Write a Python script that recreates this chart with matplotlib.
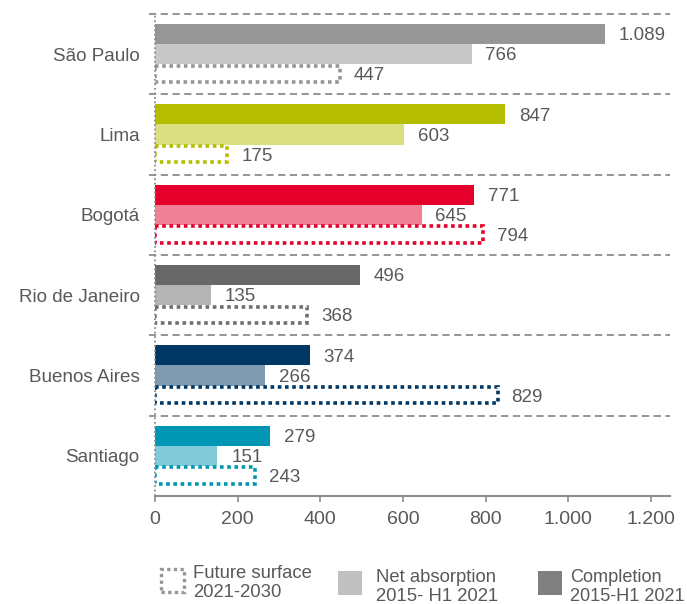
import matplotlib.pyplot as plt
from matplotlib.patches import Rectangle

plt.rcParams['font.family'] = ['Liberation Sans', 'DejaVu Sans']

citta = ["São Paulo", "Lima", "Bogotá", "Rio de Janeiro", "Buenos Aires", "Santiago"]
completamento = [1089, 847, 771, 496, 374, 279]
assorbimento = [766, 603, 645, 135, 266, 151]
futuro = [447, 175, 794, 368, 829, 243]

# colori per citta: barra piena, barra chiara, bordo tratteggiato
col_scuro = ["#969696", "#b5bd00", "#e4002b", "#686868", "#003763", "#0096b4"]
col_chiaro = ["#c8c8c8", "#dbdf82", "#f08095", "#b4b4b4", "#7f9bb1", "#80cad9"]
col_bordo = ["#969696", "#b5bd00", "#e4002b", "#6e6e6e", "#003763", "#0096b4"]

tick_x = [0, 200, 400, 600, 800, 1000, 1200]
tick_lab = ["0", "200", "400", "600", "800", "1.000", "1.200"]

testo = "#595959"
griglia = "#8c8c8c"


def fmt(v):
    return f"{v:,}".replace(",", ".")


fig = plt.figure(figsize=(6.87, 6.04), dpi=100)
ax = fig.add_axes([155 / 687, 1 - 496 / 604, 515 / 687, 482 / 604])

h = 0.25
for i in range(len(citta)):
    ax.barh(i - h, completamento[i], height=h, color=col_scuro[i])
    ax.barh(i, assorbimento[i], height=h, color=col_chiaro[i])
    ax.add_patch(Rectangle((0, i + h / 2 + 0.02), futuro[i], h - 0.05, facecolor="none",
                           edgecolor=col_bordo[i], linestyle=(0, (1, 1)), linewidth=2.6))
    for off, v in [(-h, completamento[i]), (0, assorbimento[i]), (h, futuro[i])]:
        ax.annotate(fmt(v), (v, i + off + 0.02), xytext=(10, 0), textcoords="offset points",
                    va="center", ha="left", fontsize=13.5, color=testo)

ax.set_xlim(0, 1246)
ax.set_ylim(len(citta) - 0.5, -0.5)

# separatori tra i gruppi
for y in [k - 0.5 for k in range(len(citta))]:
    ax.axhline(y, xmin=-0.012, xmax=1, color=griglia, linestyle=(0, (4, 2.5)),
               linewidth=1.3, clip_on=False)
ax.axvline(0, color=griglia, linestyle=(0, (1, 1.5)), linewidth=1.3, clip_on=False)

for s in ["top", "right", "left"]:
    ax.spines[s].set_visible(False)
ax.spines["bottom"].set_color(griglia)
ax.spines["bottom"].set_linewidth(1.5)

ax.set_yticks(range(len(citta)))
ax.set_yticklabels(citta, fontsize=13.6, color=testo)
ax.tick_params(axis="y", length=0, pad=11)
ax.set_xticks(tick_x)
ax.set_xticklabels(tick_lab, fontsize=14, color=testo)
ax.tick_params(axis="x", length=4, width=1.2, color=griglia, pad=7)

# legenda
def fx(px):
    return px / 687


def fy(py):
    return 1 - py / 604


fig.patches.append(Rectangle((fx(161), fy(592)), fx(23), 23 / 604, transform=fig.transFigure,
                             facecolor="none", edgecolor="#969696", linestyle=(0, (1, 1)),
                             linewidth=2.4))
fig.patches.append(Rectangle((fx(338), fy(595)), fx(24), 24 / 604, transform=fig.transFigure,
                             facecolor="#c0c0c0", edgecolor="none"))
fig.patches.append(Rectangle((fx(538), fy(595)), fx(24), 24 / 604, transform=fig.transFigure,
                             facecolor="#808080", edgecolor="none"))
fig.text(fx(193), fy(583), "Future surface\n2021-2030", fontsize=13.3, color=testo,
         va="center", ha="left", linespacing=1.2)
fig.text(fx(376), fy(587), "Net absorption\n2015- H1 2021", fontsize=13.3, color=testo,
         va="center", ha="left", linespacing=1.2)
fig.text(fx(570), fy(587), "Completion\n2015-H1 2021", fontsize=13.1, color=testo,
         va="center", ha="left", linespacing=1.2)

fig.savefig("out.png", dpi=100)
